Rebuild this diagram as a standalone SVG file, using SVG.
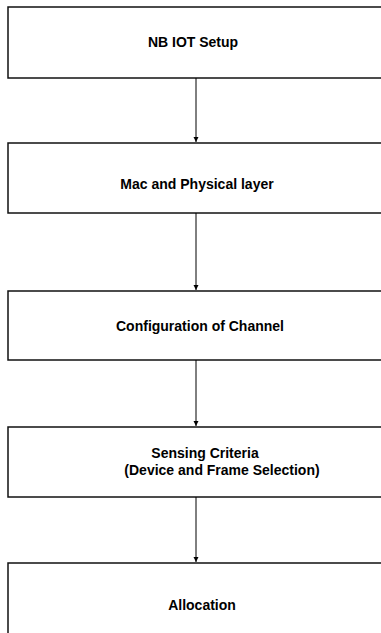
<svg xmlns="http://www.w3.org/2000/svg" width="381" height="633" viewBox="0 0 381 633">
<style>
.box{fill:#fff;stroke:#111;stroke-width:1.5}
.lbl{font-family:"Liberation Sans",Arial,sans-serif;font-weight:bold;font-size:14px;fill:#000;text-anchor:middle}
.con{stroke:#000;stroke-width:1;fill:none}
</style>
<defs>
<marker id="ah" markerWidth="6" markerHeight="6" refX="5" refY="3" orient="auto" markerUnits="userSpaceOnUse">
<path d="M0,0.5 L5,3 L0,5.5 Z" fill="#000"/>
</marker>
</defs>
<rect width="381" height="633" fill="#fff"/>
<g id="n1"><rect class="box" x="8" y="7" width="380" height="71"/><text class="lbl" x="193" y="47">NB IOT Setup</text></g>
<g id="n2"><rect class="box" x="8" y="143" width="380" height="70"/><text class="lbl" x="197" y="189">Mac and Physical layer</text></g>
<g id="n3"><rect class="box" x="8" y="291" width="380" height="69"/><text class="lbl" x="200" y="331">Configuration of Channel</text></g>
<g id="n4"><rect class="box" x="8" y="427" width="380" height="70"/><text class="lbl" x="205" y="458">Sensing Criteria</text><text class="lbl" x="222" y="475">(Device and Frame Selection)</text></g>
<g id="n5"><rect class="box" x="8" y="563" width="380" height="80"/><text class="lbl" x="202" y="610">Allocation</text></g>
<g id="connectors">
<line class="con" x1="196" y1="78" x2="196" y2="142" marker-end="url(#ah)"/>
<line class="con" x1="196" y1="213" x2="196" y2="290" marker-end="url(#ah)"/>
<line class="con" x1="196" y1="360" x2="196" y2="426" marker-end="url(#ah)"/>
<line class="con" x1="196" y1="497" x2="196" y2="562" marker-end="url(#ah)"/>
</g>
</svg>
